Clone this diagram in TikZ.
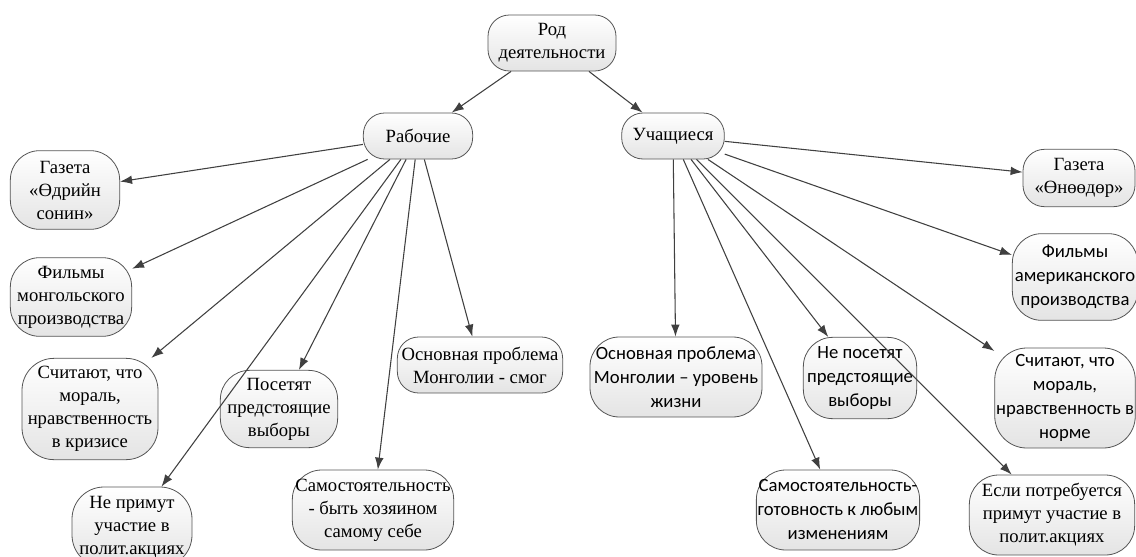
\documentclass[tikz,border=0pt]{standalone}
\usepackage{fontspec}
\setmainfont{LiberationSerif-Regular.ttf}[BoldFont=LiberationSerif-Bold.ttf]
\newfontfamily\sansru{Carlito}
\usetikzlibrary{arrows.meta}
\definecolor{edgegray}{HTML}{404040}
\definecolor{boxline}{HTML}{555555}
\definecolor{boxbottom}{HTML}{E4E4E4}

\begin{document}
\begin{tikzpicture}[x=0.75pt,y=-0.75pt,
  box/.style={draw=boxline,line width=0.6pt,rounded corners=16pt,top color=white,bottom color=boxbottom,
    align=center,inner sep=1pt,font=\rmfamily\fontsize{14}{17.25}\selectfont},
  sbox/.style={box,font=\sansru\fontsize{14}{18}\selectfont},
  link/.style={draw=edgegray,line width=0.8pt,-{Latex[length=9pt,width=6.5pt]}}]
  \useasboundingbox (0,0) rectangle (1136,557);
  \node[box,minimum width=96pt,minimum height=42pt] (rod) at (552,43) {Род\\деятельности};
  \node[box,minimum width=82pt,minimum height=34.5pt] (rab) at (418,136) {Рабочие};
  \node[box,minimum width=77pt,minimum height=34.5pt] (uch) at (673,136) {Учащиеся};
  % Рабочие
  \node[box,rounded corners=22pt,minimum width=82pt,minimum height=59pt] (gazR) at (65,190) {Газета\\«Өдрийн\\сонин»};
  \node[box,rounded corners=22pt,minimum width=91pt,minimum height=59pt] (filmR) at (71,297) {Фильмы\\монгольского\\производства};
  \node[box,rounded corners=24pt,minimum width=102pt,minimum height=76pt] (moralR) at (90,409) {Считают, что\\мораль,\\нравственность\\в кризисе};
  \node[box,rounded corners=24pt,minimum width=90pt,minimum height=60pt] (primR) at (132,527) {Не примут\\участие в\\полит.акциях};
  \node[box,rounded corners=22pt,minimum width=88pt,minimum height=58pt] (vybR) at (279,409) {Посетят\\предстоящие\\выборы};
  \node[box,rounded corners=22pt,minimum width=121pt,minimum height=60pt] (samR) at (373,510) {Самостоятельность\\- быть хозяином\\самому себе};
  \node[box,minimum width=124pt,minimum height=42pt] (probR) at (480,365) {Основная проблема\\Монголии - смог};
  % Учащиеся
  \node[sbox,rounded corners=22pt,minimum width=129pt,minimum height=60pt] (probU) at (676,377) {Основная проблема\\Монголии – уровень\\жизни};
  \node[sbox,rounded corners=22pt,minimum width=85pt,minimum height=61pt] (vybU) at (860,378) {Не посетят\\предстоящие\\выборы};
  \node[sbox,rounded corners=22pt,minimum width=121pt,minimum height=60pt] (samU) at (838,510) {Самостоятельность-\\готовность к любым\\изменениям};
  \node[sbox,rounded corners=24pt,minimum width=105pt,minimum height=75pt] (moralU) at (1065,398) {Считают, что\\мораль,\\нравственность в\\норме};
  \node[box,rounded corners=22pt,minimum width=124pt,minimum height=60pt] (primU) at (1052,515) {Если потребуется\\примут участие в\\полит.акциях};
  \node[box,minimum width=84pt,minimum height=43pt] (gazU) at (1079,178) {Газета\\«Өнөөдөр»};
  \node[sbox,rounded corners=22pt,minimum width=94pt,minimum height=65pt] (filmU) at (1075,277) {Фильмы\\американского\\производства};
  % связи
  \draw[link] (rod) -- (rab);
  \draw[link] (rod) -- (uch);
  \draw[link] (rab) -- (gazR);
  \draw[link] (rab) -- (filmR);
  \draw[link] (rab) -- (moralR);
  \draw[link] (rab) -- (primR);
  \draw[link] (rab) -- (vybR);
  \draw[link] (rab) -- (samR);
  \draw[link] (rab) -- (probR);
  \draw[link] (uch) -- (probU);
  \draw[link] (uch) -- (samU);
  \draw[link] (uch) -- (vybU);
  \draw[link] (uch) -- (primU);
  \draw[link] (uch) -- (moralU);
  \draw[link] (uch) -- (filmU);
  \draw[link] (uch) -- (gazU);
\end{tikzpicture}
\end{document}
